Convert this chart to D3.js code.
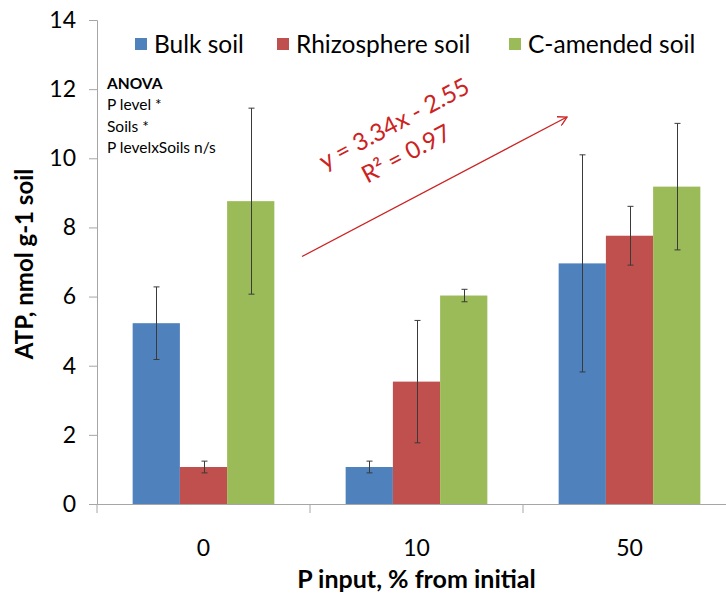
<!DOCTYPE html>
<html><head><meta charset="utf-8">
<script src="https://cdn.jsdelivr.net/npm/d3@7"></script>
<style>body{margin:0;background:#fff}svg{display:block}</style>
</head><body>
<svg id="chart" width="726" height="599"></svg>
<script>
const categories = ["0", "10", "50"];
const seriesNames = ["Bulk soil", "Rhizosphere soil", "C-amended soil"];
const bulkValues = [5.23, 1.07, 6.96];
const bulkErrors = [1.05, 0.17, 3.14];
const rhizoValues = [1.07, 3.54, 7.76];
const rhizoErrors = [0.17, 1.77, 0.85];
const camendValues = [8.76, 6.03, 9.18];
const camendErrors = [2.69, 0.18, 1.83];
const yTicks = [0, 2, 4, 6, 8, 10, 12, 14];
const anovaLines = ["P level *", "Soils *", "P levelxSoils n/s"];
const colors = ["#4F81BD", "#C0504D", "#9BBB59"];

const series = [
  {name: seriesNames[0], values: bulkValues, errors: bulkErrors},
  {name: seriesNames[1], values: rhizoValues, errors: rhizoErrors},
  {name: seriesNames[2], values: camendValues, errors: camendErrors}
];

const font = "Lato, 'Open Sans', sans-serif";
const svg = d3.select("#chart");
const pLeft = 97, pRight = 736, pTop = 20, pBottom = 504;

const x = d3.scaleBand().domain(categories).range([pLeft, pRight]).padding(0);
const xs = d3.scaleBand().domain(seriesNames).range([0, x.bandwidth()]).paddingInner(0).paddingOuter(0.755);
const y = d3.scaleLinear().domain([0, 14]).range([pBottom, pTop]);

// bars
series.forEach((s, si) => {
  svg.append("g").selectAll("rect").data(s.values).join("rect")
    .attr("x", (d, i) => x(categories[i]) + xs(s.name))
    .attr("y", d => y(d))
    .attr("width", xs.bandwidth())
    .attr("height", d => y(0) - y(d))
    .attr("fill", colors[si]);
});

// error bars
series.forEach((s, si) => {
  const g = svg.append("g").attr("stroke", "#3a3a3a").attr("stroke-width", 1).attr("fill", "none");
  s.values.forEach((v, i) => {
    const cx = Math.round(x(categories[i]) + xs(s.name) + xs.bandwidth() / 2) + 0.5;
    const y1 = y(v + s.errors[i]), y2 = y(v - s.errors[i]);
    g.append("line").attr("x1", cx).attr("x2", cx).attr("y1", y1).attr("y2", y2);
    g.append("line").attr("x1", cx - 3).attr("x2", cx + 3).attr("y1", y1).attr("y2", y1);
    g.append("line").attr("x1", cx - 3).attr("x2", cx + 3).attr("y1", y2).attr("y2", y2);
  });
});

// y axis
const yAxis = svg.append("g").attr("transform", `translate(${pLeft},0)`)
  .call(d3.axisLeft(y).tickValues(yTicks).tickSize(8).tickPadding(13).tickFormat(d3.format("d")));
yAxis.select(".domain").attr("stroke", "#a6a6a6");
yAxis.selectAll(".tick line").attr("stroke", "#a6a6a6");
yAxis.selectAll(".tick text").attr("font-family", font).attr("font-size", 23).attr("fill", "#000");

// x axis
const xAxis = svg.append("g").attr("transform", `translate(0,${pBottom})`)
  .call(d3.axisBottom(x).tickSize(0).tickPadding(36));
xAxis.select(".domain").attr("stroke", "#a6a6a6");
xAxis.selectAll(".tick text").attr("font-family", font).attr("font-size", 23).attr("fill", "#000");
xAxis.selectAll(".sep").data(categories).join("line").attr("class", "sep")
  .attr("x1", d => x(d)).attr("x2", d => x(d)).attr("y1", 0).attr("y2", 9)
  .attr("stroke", "#a6a6a6");

// axis titles
svg.append("text").attr("x", (pLeft + pRight) / 2).attr("y", 588)
  .attr("text-anchor", "middle").attr("font-family", font).attr("font-weight", "bold")
  .attr("font-size", 25).text("P input, % from initial");
svg.append("text").attr("transform", `translate(33,${(pTop + pBottom) / 2 + 2}) rotate(-90)`)
  .attr("text-anchor", "middle").attr("font-family", font).attr("font-weight", "bold")
  .attr("font-size", 24).text("ATP, nmol g-1 soil");

// legend
const legendX = [135, 277, 509];
const lg = svg.append("g");
seriesNames.forEach((n, i) => {
  lg.append("rect").attr("x", legendX[i]).attr("y", 38).attr("width", 12).attr("height", 12).attr("fill", colors[i]);
  lg.append("text").attr("x", legendX[i] + 19).attr("y", 53).attr("font-family", font)
    .attr("font-size", 24.5).text(n);
});

// ANOVA
svg.append("text").attr("x", 107).attr("y", 89).attr("font-family", font).attr("font-weight", "bold")
  .attr("font-size", 15.5).text("ANOVA");
anovaLines.forEach((t, i) => {
  svg.append("text").attr("x", 107).attr("y", 110 + i * 21.5).attr("font-family", font)
    .attr("font-size", 15.5).text(t);
});

// trend arrow
const red = "#CC2222";
svg.append("defs").append("marker").attr("id", "arr").attr("viewBox", "0 0 10 10")
  .attr("refX", 9).attr("refY", 5).attr("markerWidth", 10).attr("markerHeight", 10)
  .attr("markerUnits", "userSpaceOnUse").attr("orient", "auto")
  .append("path").attr("d", "M0,0 L9,5 L0,10").attr("fill", "none").attr("stroke", red).attr("stroke-width", 1.3);
svg.append("line").attr("x1", 302).attr("y1", 256.5).attr("x2", 567).attr("y2", 117)
  .attr("stroke", red).attr("stroke-width", 1.3).attr("marker-end", "url(#arr)");

const eq = svg.append("g").attr("font-family", font).attr("font-size", 24).attr("fill", red).attr("text-anchor", "middle");
eq.append("text").attr("transform", "translate(398,131) rotate(-28)").text("y = 3.34x - 2.55");
eq.append("text").attr("transform", "translate(410,161) rotate(-28)").text("R² = 0.97");
</script>
</body></html>
